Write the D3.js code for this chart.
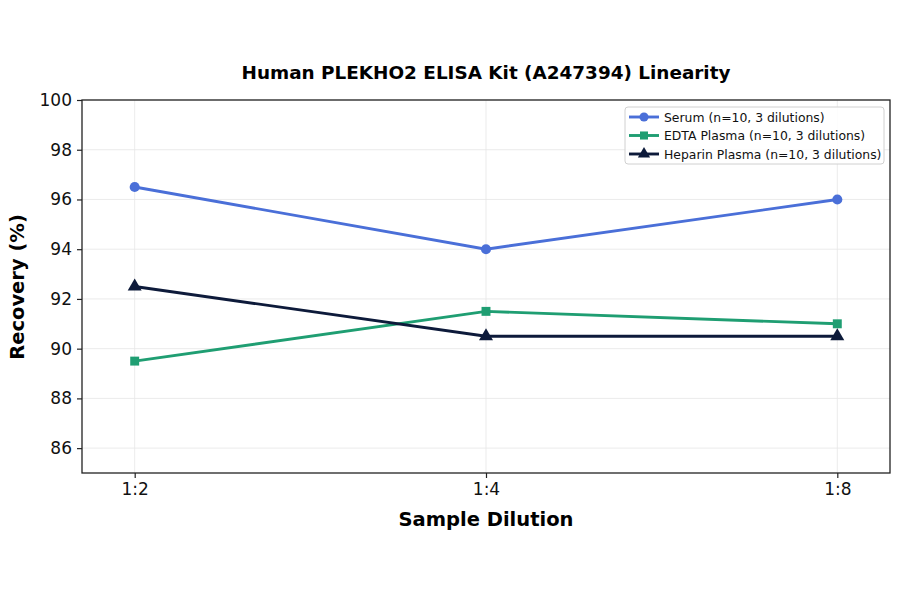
<!DOCTYPE html>
<html>
<head>
<meta charset="utf-8">
<script src="https://cdn.jsdelivr.net/npm/d3@7"></script>
<style>
  body { margin: 0; background: #fff; }
  svg { font-family: "DejaVu Sans", sans-serif; }
</style>
</head>
<body>
<svg width="900" height="594"></svg>
<script>
// chart data
const dilutions = ["1:2", "1:4", "1:8"];
const serum = [96.5, 94.0, 96.0];
const edta = [89.5, 91.5, 91.0];
const heparin = [92.5, 90.5, 90.5];
const yTicks = [86, 88, 90, 92, 94, 96, 98, 100];

const series = [
  { name: "Serum (n=10, 3 dilutions)", values: serum, color: "#4a6fd8", shape: "circle" },
  { name: "EDTA Plasma (n=10, 3 dilutions)", values: edta, color: "#1f9e72", shape: "square" },
  { name: "Heparin Plasma (n=10, 3 dilutions)", values: heparin, color: "#0d1a3a", shape: "triangle" }
];

const svg = d3.select("svg");
const plotLeft = 82, plotRight = 890, plotTop = 100, plotBottom = 473;

const x = d3.scalePoint().domain(dilutions).range([plotLeft, plotRight]).padding(0.15);
const y = d3.scaleLinear().domain([85, 100]).range([plotBottom, plotTop]);

// grid
svg.append("g").selectAll("line").data(yTicks).enter().append("line")
  .attr("x1", plotLeft).attr("x2", plotRight)
  .attr("y1", d => y(d)).attr("y2", d => y(d))
  .attr("stroke", "#e6e6e6").attr("stroke-width", 0.8);
svg.append("g").selectAll("line").data(dilutions).enter().append("line")
  .attr("x1", d => x(d)).attr("x2", d => x(d))
  .attr("y1", plotTop).attr("y2", plotBottom)
  .attr("stroke", "#e6e6e6").attr("stroke-width", 0.8);

// axes
const yAxis = svg.append("g").attr("transform", `translate(${plotLeft},0)`)
  .call(d3.axisLeft(y).tickValues(yTicks).tickSize(5).tickPadding(5));
const xAxis = svg.append("g").attr("transform", `translate(0,${plotBottom})`)
  .call(d3.axisBottom(x).tickSize(5).tickPadding(5));
[yAxis, xAxis].forEach(a => {
  a.select(".domain").remove();
  a.selectAll("text").attr("font-size", 17).attr("fill", "#111")
    .attr("font-family", "DejaVu Sans, sans-serif");
  a.selectAll("line").attr("stroke", "#222").attr("stroke-width", 1.2);
});

svg.append("rect").attr("x", plotLeft).attr("y", plotTop)
  .attr("width", plotRight - plotLeft).attr("height", plotBottom - plotTop)
  .attr("fill", "none").attr("stroke", "#222").attr("stroke-width", 1.3);

// lines and markers
const line = d3.line().x((d, i) => x(dilutions[i])).y(d => y(d));
const sym = { circle: d3.symbolCircle, square: d3.symbolSquare, triangle: d3.symbolTriangle };
series.forEach(s => {
  svg.append("path").datum(s.values).attr("d", line)
    .attr("fill", "none").attr("stroke", s.color).attr("stroke-width", 2.9);
  svg.append("g").selectAll("path").data(s.values).enter().append("path")
    .attr("d", d3.symbol().type(sym[s.shape]).size(s.shape === "triangle" ? 85 : 80))
    .attr("transform", (d, i) => `translate(${x(dilutions[i])},${y(d)})`)
    .attr("fill", s.color);
});

// legend
const lg = svg.append("g").attr("transform", "translate(625,107)");
lg.append("rect").attr("width", 259).attr("height", 57).attr("rx", 3)
  .attr("fill", "#fff").attr("fill-opacity", 0.85)
  .attr("stroke", "#d0d0d0").attr("stroke-width", 1);
series.forEach((s, i) => {
  const cy = 10 + i * 18.5;
  lg.append("line").attr("x1", 4).attr("x2", 34).attr("y1", cy).attr("y2", cy)
    .attr("stroke", s.color).attr("stroke-width", 2.9);
  lg.append("path").attr("d", d3.symbol().type(sym[s.shape]).size(65))
    .attr("transform", `translate(19,${cy})`).attr("fill", s.color);
  lg.append("text").attr("x", 39).attr("y", cy + 4.5).attr("font-size", 12.4)
    .attr("fill", "#111").text(s.name);
});

// titles
svg.append("text").attr("x", 486).attr("y", 79).attr("text-anchor", "middle")
  .attr("font-size", 18.4).attr("font-weight", "bold").attr("fill", "#000")
  .text("Human PLEKHO2 ELISA Kit (A247394) Linearity");
svg.append("text").attr("x", 486).attr("y", 526).attr("text-anchor", "middle")
  .attr("font-size", 19.5).attr("font-weight", "bold").attr("fill", "#000")
  .text("Sample Dilution");
svg.append("text").attr("transform", "translate(24,287) rotate(-90)")
  .attr("text-anchor", "middle")
  .attr("font-size", 19.5).attr("font-weight", "bold").attr("fill", "#000")
  .text("Recovery (%)");
</script>
</body>
</html>
